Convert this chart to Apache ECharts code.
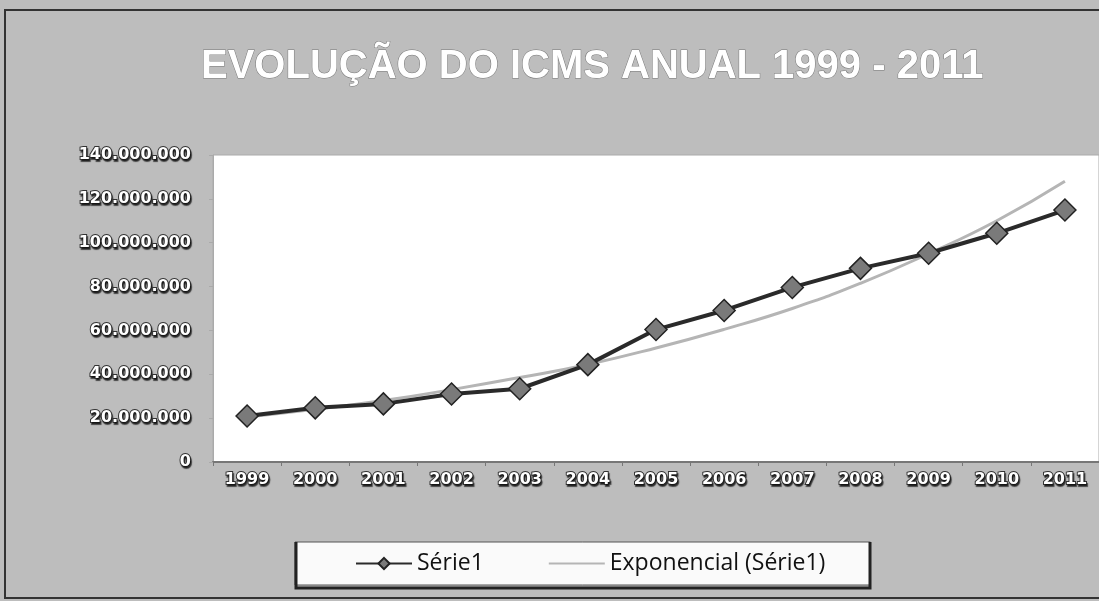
<!DOCTYPE html>
<html lang="pt">
<head>
    <meta charset="UTF-8">
    <title>Evolução do ICMS Anual 1999 - 2011</title>
    <script src="https://cdn.jsdelivr.net/npm/echarts@6/dist/echarts.min.js"></script>
    <style>
        html, body { margin: 0; padding: 0; }
        #main { width: 1099px; height: 601px; }
    </style>
</head>
<body>
    <div id="main"></div>
    <script>
        // dados
        var anos = ['1999', '2000', '2001', '2002', '2003', '2004', '2005',
                    '2006', '2007', '2008', '2009', '2010', '2011'];
        var serie1 = [21000000, 24700000, 26500000, 31000000, 33400000, 44400000, 60400000,
                      69100000, 79600000, 88300000, 95200000, 104300000, 114900000];
        // linha de tendência exponencial, lida ponto a ponto da figura
        var exponencial = [20500000, 24000000, 28000000, 33000000, 38500000, 44500000, 52000000,
                           60500000, 70000000, 81500000, 95000000, 110000000, 128000000];
        var yMax = 140000000;
        var yStep = 20000000;

        function fmt(v) {
            return String(v).replace(/\B(?=(\d{3})+(?!\d))/g, '.');
        }

        // rótulos brancos com contorno escuro, como no original
        var outline = {
            color: '#fff',
            fontFamily: 'DejaVu Sans, sans-serif',
            fontWeight: 'bold',
            textBorderColor: '#333',
            textBorderWidth: 2,
            textShadowColor: 'rgba(0,0,0,0.6)',
            textShadowOffsetX: 1,
            textShadowOffsetY: 2,
            textShadowBlur: 1
        };

        var myChart = echarts.init(document.getElementById('main'));
        var option = {
            backgroundColor: '#bdbdbd',
            animation: false,
            title: {
                text: 'EVOLUÇÃO DO ICMS ANUAL 1999 - 2011',
                left: 196,
                top: 42,
                textStyle: {
                    fontFamily: 'Liberation Sans, Arial, sans-serif',
                    fontSize: 40,
                    fontWeight: 'bold',
                    color: '#fff',
                    textBorderColor: '#777',
                    textBorderWidth: 1
                }
            },
            graphic: [{
                type: 'rect',
                shape: { x: 5, y: 10, width: 1100, height: 588 },
                style: { fill: 'none', stroke: '#333', lineWidth: 2 },
                silent: true
            }, {
                type: 'polyline',
                shape: { points: [[296, 542], [296, 588], [870, 588], [870, 542]] },
                style: { fill: 'none', stroke: '#222', lineWidth: 3 },
                silent: true,
                z: 10
            }],
            legend: {
                left: 295,
                top: 542,
                padding: [10, 45, 10, 60],
                itemGap: 64,
                itemWidth: 56,
                itemHeight: 14,
                backgroundColor: '#fafafa',
                borderColor: '#555',
                borderWidth: 1,
                textStyle: {
                    fontFamily: 'Open Sans, sans-serif',
                    fontSize: 23,
                    color: '#111'
                },
                data: [
                    { name: 'Série1' },
                    { name: 'Exponencial (Série1)', itemStyle: { opacity: 0 } }
                ]
            },
            grid: {
                left: 213,
                right: -10,
                top: 155,
                bottom: 139,
                show: true,
                backgroundColor: '#fff',
                borderColor: '#aaa',
                borderWidth: 1
            },
            xAxis: {
                type: 'category',
                data: anos,
                boundaryGap: true,
                axisLine: { lineStyle: { color: '#777', width: 2 } },
                axisTick: { show: true, length: 4, lineStyle: { color: '#777' } },
                axisLabel: Object.assign({
                    fontSize: 16,
                    margin: 10,
                    interval: 0
                }, outline)
            },
            yAxis: {
                type: 'value',
                min: 0,
                max: yMax,
                interval: yStep,
                splitLine: { show: false },
                axisLine: { show: true, lineStyle: { color: '#aaa' } },
                axisTick: { show: true, length: 4, lineStyle: { color: '#aaa' } },
                axisLabel: Object.assign({
                    fontSize: 16,
                    margin: 22,
                    formatter: fmt
                }, outline)
            },
            series: [{
                name: 'Exponencial (Série1)',
                type: 'line',
                data: exponencial,
                smooth: true,
                symbol: 'none',
                lineStyle: { color: '#b5b5b5', width: 3 },
                itemStyle: { color: '#b5b5b5' },
                z: 1
            }, {
                name: 'Série1',
                type: 'line',
                data: serie1,
                symbol: 'diamond',
                symbolSize: 22,
                lineStyle: { color: '#2a2a2a', width: 4 },
                itemStyle: { color: '#7a7a7a', borderColor: '#222', borderWidth: 1.5 },
                z: 2
            }]
        };

        myChart.setOption(option);
    </script>
</body>
</html>
